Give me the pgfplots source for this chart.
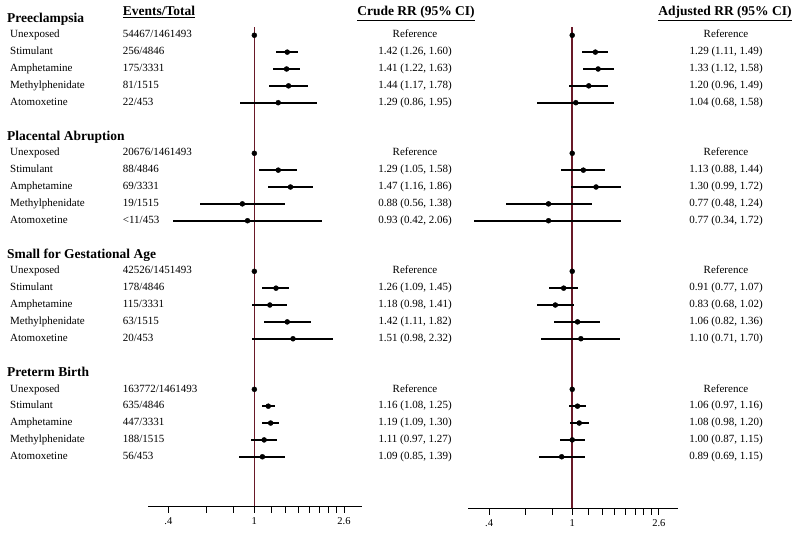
\documentclass[border=0pt]{standalone}
\usepackage{pgfplots}
\pgfplotsset{compat=1.18}
\usepackage{pgfplotstable}
\usepackage{fontspec}
\setmainfont{Liberation Serif}
\definecolor{refline}{RGB}{105,25,40}

% rows: group g, item r -> row = 7g + r ; values are RR, lower, upper 95% CI
\pgfplotstableread{
row rr lo hi
0 1 1 1
1 1.42 1.26 1.60
2 1.41 1.22 1.63
3 1.44 1.17 1.78
4 1.29 0.86 1.95
7 1 1 1
8 1.29 1.05 1.58
9 1.47 1.16 1.86
10 0.88 0.56 1.38
11 0.93 0.42 2.06
14 1 1 1
15 1.26 1.09 1.45
16 1.18 0.98 1.41
17 1.42 1.11 1.82
18 1.51 0.98 2.32
21 1 1 1
22 1.16 1.08 1.25
23 1.19 1.09 1.30
24 1.11 0.97 1.27
25 1.09 0.85 1.39
}\crude

\pgfplotstableread{
row rr lo hi
0 1 1 1
1 1.29 1.11 1.49
2 1.33 1.12 1.58
3 1.20 0.96 1.49
4 1.04 0.68 1.58
7 1 1 1
8 1.13 0.88 1.44
9 1.30 0.99 1.72
10 0.77 0.48 1.24
11 0.77 0.34 1.72
14 1 1 1
15 0.91 0.77 1.07
16 0.83 0.68 1.02
17 1.06 0.82 1.36
18 1.10 0.71 1.70
21 1 1 1
22 1.06 0.97 1.16
23 1.08 0.98 1.20
24 1.00 0.87 1.15
25 0.89 0.69 1.15
}\adjusted

% x axis is ln(RR); ticks at ln(0.4), ln(0.6), ..., ln(2.6)
\pgfplotsset{
  forestaxis/.style={
    scale only axis,
    axis x line=bottom,
    axis y line=none,
    x axis line style={-, line width=1pt},
    clip=false,
    xtick={-0.91629,-0.51083,-0.22314,0,0.18232,0.33647,0.47000,0.58779,0.69315,0.78846,0.87547,0.95551},
    xticklabels={.4,,,1,,,,,,,,2.6},
    tick align=outside,
    major tick length=6.5pt,
    tick style={line width=0.9pt, black},
    xticklabel style={font=\fontsize{10.5}{12}\selectfont, inner sep=1pt, yshift=-4pt},
  },
  ciplot/.style={
    black, only marks, mark=*, mark size=2.5pt,
    error bars/x dir=both, error bars/x explicit, error bars/error mark=none,
    error bars/error bar style={line width=2pt, black},
  },
}

\newcommand\rowtext[5]{%
  \pgfmathsetmacro\yy{-(35.3+#1*16.86)}%
  \node[txt,anchor=west] at (10pt,\yy pt) {#2};
  \node[txt,anchor=west] at (122.7pt,\yy pt) {#3};
  \node[txt] at (415pt,\yy pt) {#4};
  \node[txt] at (726pt,\yy pt) {#5};
}
\newcommand\grouphdr[2]{%
  \pgfmathsetmacro\yy{-(36.5+#1*16.86)}%
  \node[hdr,anchor=west] at (7pt,\yy pt) {#2};
}

\begin{document}
\begin{tikzpicture}[
  txt/.style={font=\fontsize{11}{13}\selectfont, inner sep=0pt, text height=7.5pt, text depth=2.2pt},
  hdr/.style={font=\fontsize{13.5}{15}\selectfont\bfseries, inner sep=0pt, text height=9pt, text depth=2.5pt}]
\useasboundingbox (0pt,0pt) rectangle (800pt,-535pt);

\begin{axis}[forestaxis, at={(148pt,-506pt)}, anchor=south west,
  width=214pt, height=479pt, xmin=-1.1332, xmax=1.1474, ymin=-27.92, ymax=0.49]
  \addplot[color=refline, line width=1.6pt] coordinates {(0,0.49) (0,-27.92)};
  \addplot[ciplot] table[x expr=ln(\thisrow{rr}), y expr=-\thisrow{row},
    x error plus expr=ln(\thisrow{hi})-ln(\thisrow{rr}),
    x error minus expr=ln(\thisrow{rr})-ln(\thisrow{lo})] {\crude};
\end{axis}

\begin{axis}[forestaxis, at={(468.3pt,-508pt)}, anchor=south west,
  width=210pt, height=481pt, xmin=-1.1457, xmax=1.1694, ymin=-28.04, ymax=0.49]
  \addplot[color=refline, line width=1.6pt] coordinates {(0,0.49) (0,-28.04)};
  \addplot[ciplot] table[x expr=ln(\thisrow{rr}), y expr=-\thisrow{row},
    x error plus expr=ln(\thisrow{hi})-ln(\thisrow{rr}),
    x error minus expr=ln(\thisrow{rr})-ln(\thisrow{lo})] {\adjusted};
\end{axis}

\node[hdr,anchor=west] at (122.7pt,-12.3pt) {\underline{Events/Total}};
\node[hdr] at (416pt,-12.3pt) {\underline{Crude RR (95\% CI)}};
\node[hdr] at (725pt,-12.3pt) {\underline{Adjusted RR (95\% CI)}};

\grouphdr{-1}{Preeclampsia}
\rowtext{0}{Unexposed}{54467/1461493}{Reference}{Reference}
\rowtext{1}{Stimulant}{256/4846}{1.42 (1.26, 1.60)}{1.29 (1.11, 1.49)}
\rowtext{2}{Amphetamine}{175/3331}{1.41 (1.22, 1.63)}{1.33 (1.12, 1.58)}
\rowtext{3}{Methylphenidate}{81/1515}{1.44 (1.17, 1.78)}{1.20 (0.96, 1.49)}
\rowtext{4}{Atomoxetine}{22/453}{1.29 (0.86, 1.95)}{1.04 (0.68, 1.58)}

\grouphdr{6}{Placental Abruption}
\rowtext{7}{Unexposed}{20676/1461493}{Reference}{Reference}
\rowtext{8}{Stimulant}{88/4846}{1.29 (1.05, 1.58)}{1.13 (0.88, 1.44)}
\rowtext{9}{Amphetamine}{69/3331}{1.47 (1.16, 1.86)}{1.30 (0.99, 1.72)}
\rowtext{10}{Methylphenidate}{19/1515}{0.88 (0.56, 1.38)}{0.77 (0.48, 1.24)}
\rowtext{11}{Atomoxetine}{<11/453}{0.93 (0.42, 2.06)}{0.77 (0.34, 1.72)}

\grouphdr{13}{Small for Gestational Age}
\rowtext{14}{Unexposed}{42526/1451493}{Reference}{Reference}
\rowtext{15}{Stimulant}{178/4846}{1.26 (1.09, 1.45)}{0.91 (0.77, 1.07)}
\rowtext{16}{Amphetamine}{115/3331}{1.18 (0.98, 1.41)}{0.83 (0.68, 1.02)}
\rowtext{17}{Methylphenidate}{63/1515}{1.42 (1.11, 1.82)}{1.06 (0.82, 1.36)}
\rowtext{18}{Atomoxetine}{20/453}{1.51 (0.98, 2.32)}{1.10 (0.71, 1.70)}

\grouphdr{20}{Preterm Birth}
\rowtext{21}{Unexposed}{163772/1461493}{Reference}{Reference}
\rowtext{22}{Stimulant}{635/4846}{1.16 (1.08, 1.25)}{1.06 (0.97, 1.16)}
\rowtext{23}{Amphetamine}{447/3331}{1.19 (1.09, 1.30)}{1.08 (0.98, 1.20)}
\rowtext{24}{Methylphenidate}{188/1515}{1.11 (0.97, 1.27)}{1.00 (0.87, 1.15)}
\rowtext{25}{Atomoxetine}{56/453}{1.09 (0.85, 1.39)}{0.89 (0.69, 1.15)}
\end{tikzpicture}
\end{document}
